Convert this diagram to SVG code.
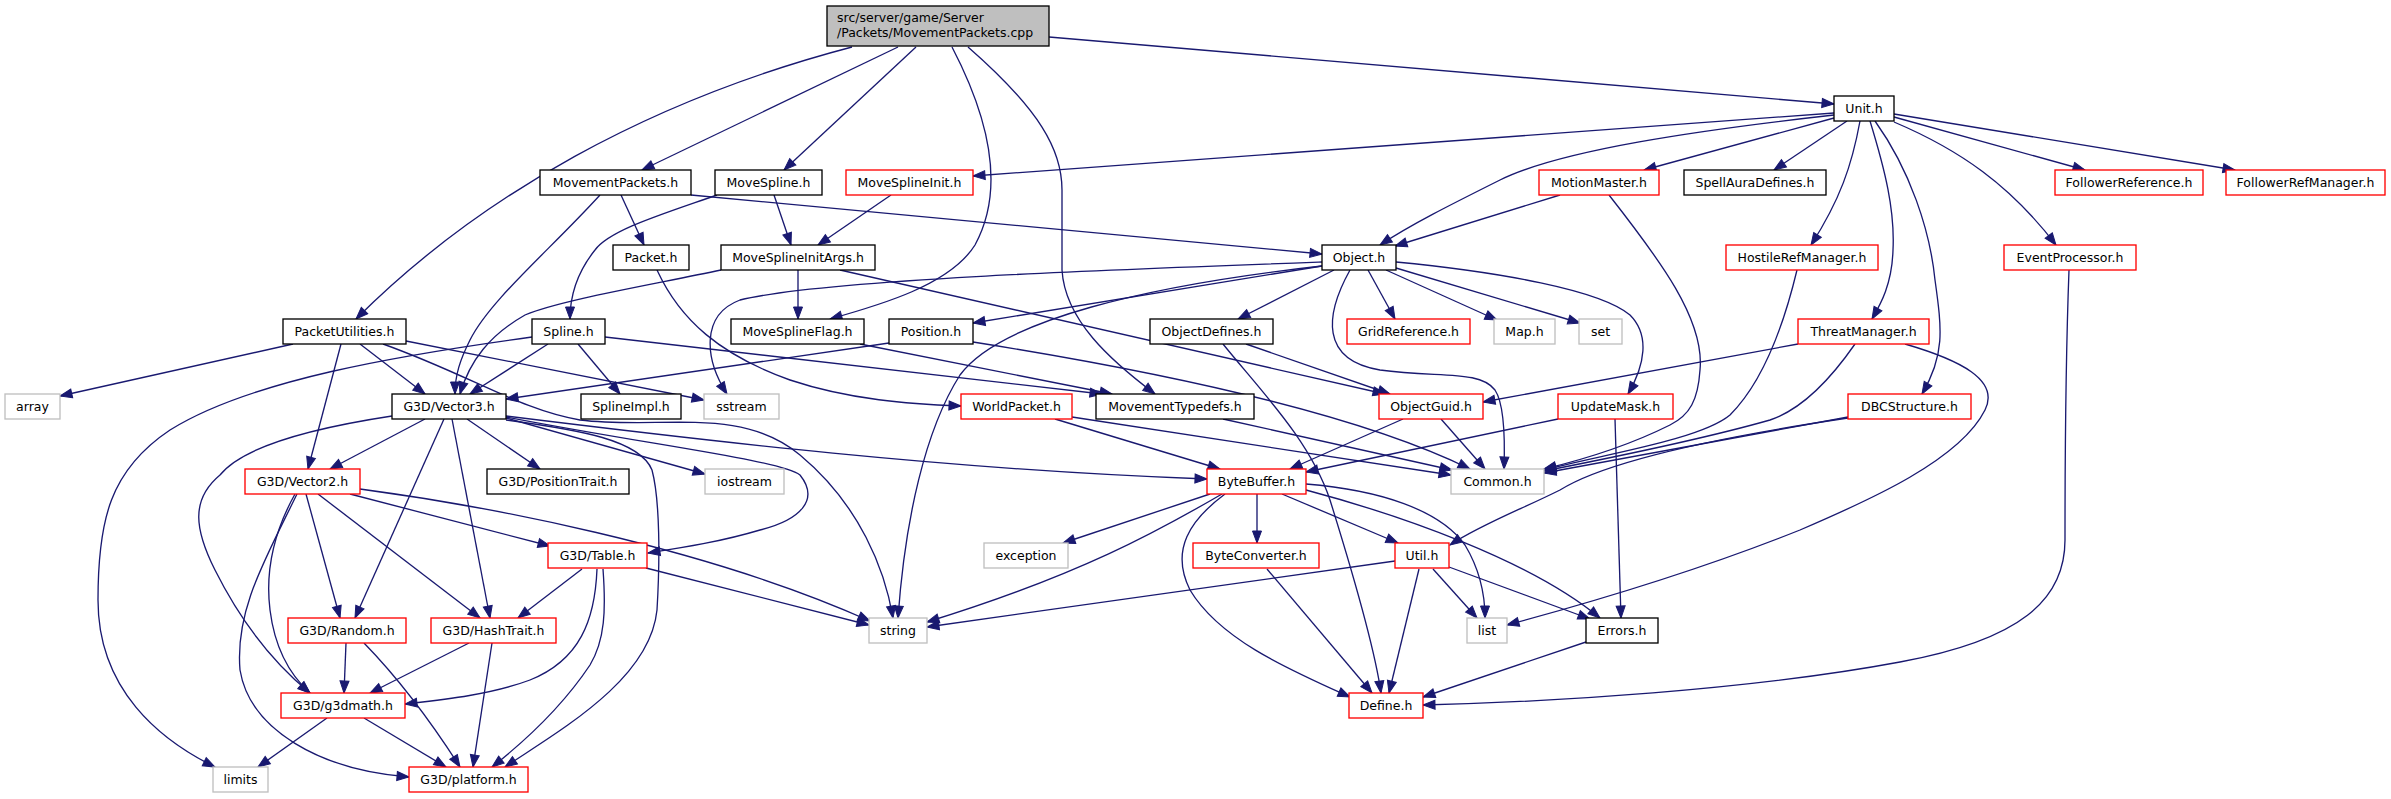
<svg xmlns="http://www.w3.org/2000/svg" width="2391" height="799" viewBox="0 0 2391 799">
<style>
.n rect{fill:#fff;stroke-width:1.33}
.b rect{stroke:#000}
.r rect{stroke:#ff0000}
.g rect{stroke:#bfbfbf}
text{font-family:"DejaVu Sans","Liberation Sans",sans-serif;font-size:12.5px;fill:#000;text-anchor:middle}
.e path{fill:none;stroke:#191970;stroke-width:1.33;marker-end:url(#a)}
</style>
<defs>
<marker id="a" markerUnits="userSpaceOnUse" viewBox="-1 -1 14 11" markerWidth="14" markerHeight="11" refX="12" refY="4.5" orient="auto" overflow="visible">
<path d="M0,0L12,4.5L0,9z" fill="#191970" stroke="#191970" stroke-width="1"/>
</marker>
</defs>
<rect width="2391" height="799" fill="#fff"/>
<g id="edges" class="e">
<path d="M852,47 C650,100 480,195 356,319"/>
<path d="M898,47 L642,170"/>
<path d="M916,47 L784,170"/>
<path d="M952,47 C990,120 1005,190 975,245 C950,285 880,305 830,319"/>
<path d="M968,47 C1040,110 1062,150 1062,190 L1062,270 C1065,320 1110,360 1155,394"/>
<path d="M1049,37 L1834,104"/>
<path d="M1834,113 L973,176"/>
<path d="M1834,115 C1700,130 1560,150 1500,180 C1450,205 1410,225 1380,245"/>
<path d="M1834,118 L1644,170"/>
<path d="M1847,121 L1774,170"/>
<path d="M1860,121 C1852,165 1840,200 1811,245"/>
<path d="M1870,121 C1885,170 1895,210 1893,250 C1892,285 1880,305 1872,319"/>
<path d="M1875,121 C1910,170 1930,230 1935,280 C1942,330 1945,355 1922,394"/>
<path d="M1894,122 C1960,150 2010,185 2056,245"/>
<path d="M1894,117 L2085,170"/>
<path d="M1894,114 L2235,170"/>
<path d="M621,195 L644,245"/>
<path d="M600,195 C550,250 490,300 470,340 C460,360 455,375 455,394"/>
<path d="M691,195 L1322,254"/>
<path d="M774,195 L791,245"/>
<path d="M717,195 C660,215 610,230 595,250 C575,275 570,300 570,319"/>
<path d="M891,195 L818,245"/>
<path d="M657,270 C680,320 720,355 790,380 C850,400 910,404 961,406"/>
<path d="M798,270 L798,319"/>
<path d="M721,270 C650,285 560,300 525,315 C490,335 470,360 460,394"/>
<path d="M840,270 L1385,394"/>
<path d="M1322,266 L973,323"/>
<path d="M1334,270 L1238,319"/>
<path d="M1368,270 L1395,319"/>
<path d="M1386,270 L1497,320"/>
<path d="M1396,268 L1580,323"/>
<path d="M1396,262 C1500,272 1600,290 1630,315 C1650,335 1645,365 1628,394"/>
<path d="M1350,270 C1325,315 1320,360 1380,370 C1440,378 1480,370 1495,390 C1505,405 1505,440 1504,469"/>
<path d="M1322,266 C1150,285 1000,320 960,375 C925,430 905,520 898,618"/>
<path d="M1322,262 C1100,270 820,280 740,300 C700,315 705,360 727,394"/>
<path d="M1246,344 L1390,394"/>
<path d="M1223,344 C1260,390 1310,440 1330,500 C1355,580 1375,650 1381,693"/>
<path d="M889,343 L506,399"/>
<path d="M973,342 C1150,370 1350,410 1470,469"/>
<path d="M860,344 L1112,394"/>
<path d="M532,337 C400,355 250,380 170,430 C110,470 98,520 98,600 C98,690 160,740 215,767"/>
<path d="M548,344 L470,394"/>
<path d="M578,344 L620,394"/>
<path d="M605,337 L1102,394"/>
<path d="M293,344 L60,396"/>
<path d="M341,344 L308,469"/>
<path d="M360,344 L425,394"/>
<path d="M383,344 C470,375 520,410 580,420 C660,430 740,405 800,455 C860,505 885,570 893,618"/>
<path d="M406,341 L704,400"/>
<path d="M425,419 L330,469"/>
<path d="M444,419 L355,618"/>
<path d="M452,419 L490,618"/>
<path d="M467,419 L540,469"/>
<path d="M392,416 C300,430 240,450 220,475 C190,500 195,530 215,570 C240,620 270,660 310,693"/>
<path d="M506,418 L705,474"/>
<path d="M506,417 C650,445 780,460 800,475 C820,500 800,520 760,530 C720,542 680,548 648,553"/>
<path d="M506,420 C580,430 640,440 652,470 C660,500 660,560 657,610 C650,680 560,730 505,767"/>
<path d="M506,416 C700,440 950,470 1207,479"/>
<path d="M306,494 L340,618"/>
<path d="M318,494 L480,618"/>
<path d="M350,494 L550,546"/>
<path d="M360,489 C480,505 700,545 870,621"/>
<path d="M295,494 C275,530 265,570 270,610 C275,650 290,675 310,693"/>
<path d="M297,494 C265,560 235,610 240,670 C250,730 320,770 409,777"/>
<path d="M582,569 L518,618"/>
<path d="M597,569 C595,620 580,660 530,680 C490,695 440,700 405,704"/>
<path d="M603,569 C606,610 605,640 590,665 C560,710 520,745 492,767"/>
<path d="M646,568 L869,625"/>
<path d="M346,643 L344,693"/>
<path d="M364,643 C400,680 430,720 460,767"/>
<path d="M469,643 L370,693"/>
<path d="M492,643 L473,767"/>
<path d="M327,718 L258,767"/>
<path d="M364,718 L446,767"/>
<path d="M1055,419 L1220,469"/>
<path d="M1072,417 L1451,475"/>
<path d="M1223,419 L1452,470"/>
<path d="M1403,419 L1290,469"/>
<path d="M1441,419 L1485,469"/>
<path d="M1558,419 L1306,472"/>
<path d="M1615,419 L1621,618"/>
<path d="M1848,417 L1544,473"/>
<path d="M1848,418 C1700,440 1600,465 1560,490 C1520,510 1480,525 1450,545"/>
<path d="M1797,270 C1785,320 1765,380 1730,415 C1700,440 1600,455 1544,470"/>
<path d="M1798,344 L1483,402"/>
<path d="M1855,344 C1830,380 1800,410 1770,420 C1700,440 1600,460 1544,471"/>
<path d="M1905,344 C1960,360 2000,380 1985,410 C1960,460 1870,500 1800,530 C1700,570 1600,600 1507,625"/>
<path d="M1560,195 L1395,246"/>
<path d="M1609,195 C1660,260 1705,320 1700,370 C1698,400 1690,415 1670,425 C1630,445 1590,458 1544,469"/>
<path d="M1257,494 L1257,543"/>
<path d="M1282,494 L1398,543"/>
<path d="M1306,484 C1380,490 1440,510 1465,545 C1480,570 1485,595 1485,618"/>
<path d="M1306,490 C1400,515 1530,560 1600,618"/>
<path d="M1225,494 C1190,520 1170,550 1190,590 C1220,640 1290,670 1350,697"/>
<path d="M1222,494 C1160,530 1080,575 927,622"/>
<path d="M1210,494 L1063,543"/>
<path d="M1395,561 L927,627"/>
<path d="M1433,569 L1477,618"/>
<path d="M1449,567 L1590,619"/>
<path d="M1419,569 L1389,693"/>
<path d="M1267,569 L1372,693"/>
<path d="M1586,642 L1423,697"/>
<path d="M2069,270 C2066,350 2065,450 2065,540 C2065,600 2020,640 1900,662 C1750,690 1550,702 1423,705"/>
</g>
<g id="node-root" class="n b"><rect x="827" y="6" width="222" height="40" style="fill:#bfbfbf"/><text x="837" y="22" style="text-anchor:start">src/server/game/Server</text><text x="837" y="37" style="text-anchor:start">/Packets/MovementPackets.cpp</text></g>
<g id="node-unit" class="n b"><rect x="1834" y="96" width="60" height="25"/><text x="1864" y="113">Unit.h</text></g>
<g id="node-movementpackets" class="n b"><rect x="540" y="170" width="151" height="25"/><text x="615.5" y="187">MovementPackets.h</text></g>
<g id="node-movespline" class="n b"><rect x="715" y="170" width="107" height="25"/><text x="768.5" y="187">MoveSpline.h</text></g>
<g id="node-movesplineinit" class="n r"><rect x="846" y="170" width="127" height="25"/><text x="909.5" y="187">MoveSplineInit.h</text></g>
<g id="node-motionmaster" class="n r"><rect x="1539" y="170" width="120" height="25"/><text x="1599" y="187">MotionMaster.h</text></g>
<g id="node-spellauradefines" class="n b"><rect x="1684" y="170" width="142" height="25"/><text x="1755" y="187">SpellAuraDefines.h</text></g>
<g id="node-followerreference" class="n r"><rect x="2055" y="170" width="148" height="25"/><text x="2129" y="187">FollowerReference.h</text></g>
<g id="node-followerrefmanager" class="n r"><rect x="2226" y="170" width="159" height="25"/><text x="2305.5" y="187">FollowerRefManager.h</text></g>
<g id="node-packet" class="n b"><rect x="613" y="245" width="76" height="25"/><text x="651" y="262">Packet.h</text></g>
<g id="node-movesplineinitargs" class="n b"><rect x="721" y="245" width="154" height="25"/><text x="798" y="262">MoveSplineInitArgs.h</text></g>
<g id="node-object" class="n b"><rect x="1322" y="245" width="74" height="25"/><text x="1359" y="262">Object.h</text></g>
<g id="node-hostilerefmanager" class="n r"><rect x="1726" y="245" width="152" height="25"/><text x="1802" y="262">HostileRefManager.h</text></g>
<g id="node-eventprocessor" class="n r"><rect x="2004" y="245" width="132" height="25"/><text x="2070" y="262">EventProcessor.h</text></g>
<g id="node-packetutilities" class="n b"><rect x="283" y="319" width="123" height="25"/><text x="344.5" y="336">PacketUtilities.h</text></g>
<g id="node-spline" class="n b"><rect x="532" y="319" width="73" height="25"/><text x="568.5" y="336">Spline.h</text></g>
<g id="node-movesplineflag" class="n b"><rect x="731" y="319" width="133" height="25"/><text x="797.5" y="336">MoveSplineFlag.h</text></g>
<g id="node-position" class="n b"><rect x="889" y="319" width="84" height="25"/><text x="931" y="336">Position.h</text></g>
<g id="node-objectdefines" class="n b"><rect x="1150" y="319" width="123" height="25"/><text x="1211.5" y="336">ObjectDefines.h</text></g>
<g id="node-gridreference" class="n r"><rect x="1347" y="319" width="123" height="25"/><text x="1408.5" y="336">GridReference.h</text></g>
<g id="node-map" class="n g"><rect x="1494" y="319" width="61" height="25"/><text x="1524.5" y="336">Map.h</text></g>
<g id="node-set" class="n g"><rect x="1579" y="319" width="43" height="25"/><text x="1600.5" y="336">set</text></g>
<g id="node-threatmanager" class="n r"><rect x="1798" y="319" width="131" height="25"/><text x="1863.5" y="336">ThreatManager.h</text></g>
<g id="node-array" class="n g"><rect x="5" y="394" width="55" height="25"/><text x="32.5" y="411">array</text></g>
<g id="node-vector3" class="n b"><rect x="392" y="394" width="114" height="25"/><text x="449" y="411">G3D/Vector3.h</text></g>
<g id="node-splineimpl" class="n b"><rect x="581" y="394" width="100" height="25"/><text x="631" y="411">SplineImpl.h</text></g>
<g id="node-sstream" class="n g"><rect x="704" y="394" width="75" height="25"/><text x="741.5" y="411">sstream</text></g>
<g id="node-worldpacket" class="n r"><rect x="961" y="394" width="111" height="25"/><text x="1016.5" y="411">WorldPacket.h</text></g>
<g id="node-movementtypedefs" class="n b"><rect x="1096" y="394" width="158" height="25"/><text x="1175" y="411">MovementTypedefs.h</text></g>
<g id="node-objectguid" class="n r"><rect x="1379" y="394" width="104" height="25"/><text x="1431" y="411">ObjectGuid.h</text></g>
<g id="node-updatemask" class="n r"><rect x="1558" y="394" width="115" height="25"/><text x="1615.5" y="411">UpdateMask.h</text></g>
<g id="node-dbcstructure" class="n r"><rect x="1848" y="394" width="123" height="25"/><text x="1909.5" y="411">DBCStructure.h</text></g>
<g id="node-vector2" class="n r"><rect x="245" y="469" width="115" height="25"/><text x="302.5" y="486">G3D/Vector2.h</text></g>
<g id="node-positiontrait" class="n b"><rect x="487" y="469" width="142" height="25"/><text x="558" y="486">G3D/PositionTrait.h</text></g>
<g id="node-iostream" class="n g"><rect x="705" y="469" width="79" height="25"/><text x="744.5" y="486">iostream</text></g>
<g id="node-bytebuffer" class="n r"><rect x="1207" y="469" width="99" height="25"/><text x="1256.5" y="486">ByteBuffer.h</text></g>
<g id="node-common" class="n g"><rect x="1451" y="469" width="93" height="25"/><text x="1497.5" y="486">Common.h</text></g>
<g id="node-table" class="n r"><rect x="548" y="543" width="99" height="25"/><text x="597.5" y="560">G3D/Table.h</text></g>
<g id="node-exception" class="n g"><rect x="984" y="543" width="84" height="25"/><text x="1026" y="560">exception</text></g>
<g id="node-byteconverter" class="n r"><rect x="1193" y="543" width="126" height="25"/><text x="1256" y="560">ByteConverter.h</text></g>
<g id="node-util" class="n r"><rect x="1395" y="543" width="54" height="25"/><text x="1422" y="560">Util.h</text></g>
<g id="node-random" class="n r"><rect x="288" y="618" width="118" height="25"/><text x="347" y="635">G3D/Random.h</text></g>
<g id="node-hashtrait" class="n r"><rect x="431" y="618" width="125" height="25"/><text x="493.5" y="635">G3D/HashTrait.h</text></g>
<g id="node-string" class="n g"><rect x="869" y="618" width="58" height="25"/><text x="898" y="635">string</text></g>
<g id="node-list" class="n g"><rect x="1467" y="618" width="40" height="25"/><text x="1487" y="635">list</text></g>
<g id="node-errors" class="n b"><rect x="1586" y="618" width="72" height="25"/><text x="1622" y="635">Errors.h</text></g>
<g id="node-g3dmath" class="n r"><rect x="281" y="693" width="124" height="25"/><text x="343" y="710">G3D/g3dmath.h</text></g>
<g id="node-define" class="n r"><rect x="1349" y="693" width="74" height="25"/><text x="1386" y="710">Define.h</text></g>
<g id="node-limits" class="n g"><rect x="213" y="767" width="55" height="25"/><text x="240.5" y="784">limits</text></g>
<g id="node-platform" class="n r"><rect x="409" y="767" width="119" height="25"/><text x="468.5" y="784">G3D/platform.h</text></g>
</svg>
